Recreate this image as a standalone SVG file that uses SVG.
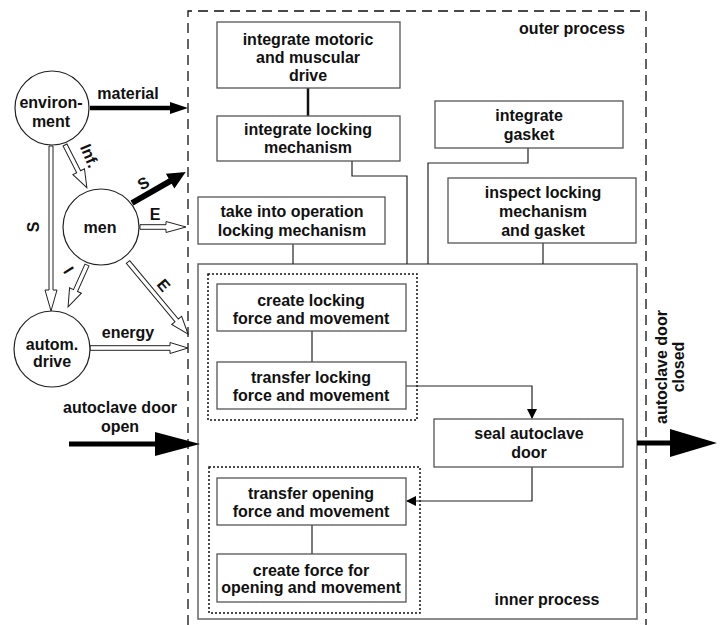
<svg xmlns="http://www.w3.org/2000/svg" width="720" height="625" viewBox="0 0 720 625">
<style>
text{font-family:"Liberation Sans",Arial,sans-serif;font-weight:bold;font-size:16px;fill:#111;text-anchor:middle}
.box{fill:#fff;stroke:#555;stroke-width:1.3}
.ln{fill:none;stroke:#222;stroke-width:1.2}
.dot{fill:none;stroke:#111;stroke-width:1.5;stroke-dasharray:2,2}
.hol{fill:#fff;stroke:#222;stroke-width:1}
.sol{fill:#000;stroke:none}
</style>
<defs>
<marker id="ah" markerWidth="10" markerHeight="10" refX="9" refY="5" orient="auto" markerUnits="userSpaceOnUse"><path d="M0,0 L10,5 L0,10 Z" fill="#000"/></marker>
</defs>
<rect width="720" height="625" fill="#fff"/>
<g id="outer-process">
<path d="M188,625 V11 H646 V625" fill="none" stroke="#111" stroke-width="1.3" stroke-dasharray="10,6"/>
<text x="572" y="34">outer process</text>
</g>
<g id="inner-process">
<rect x="198" y="264" width="439" height="355" fill="none" stroke="#666" stroke-width="1.5"/>
<text x="547" y="605">inner process</text>
</g>
<g id="group-locking"><rect class="dot" x="208" y="274" width="209" height="146"/></g>
<g id="group-opening"><rect class="dot" x="209" y="467" width="211" height="146"/></g>
<g id="connectors">
<line x1="308" y1="88" x2="308" y2="116" stroke="#111" stroke-width="2.5"/>
<path class="ln" d="M352,161 V176 H407 V264"/>
<path class="ln" d="M528,148 V163 H428 V264"/>
<path class="ln" d="M543,243 V264"/>
<path class="ln" d="M293,244 V264"/>
<path class="ln" d="M312,331 V362"/>
<path class="ln" d="M312,525 V554"/>
<path class="ln" d="M406,386 H532 V418" marker-end="url(#ah)"/>
<path class="ln" d="M532,467 V501 H407" marker-end="url(#ah)"/>
<line x1="90" y1="108" x2="172" y2="108" stroke="#000" stroke-width="4.5"/>
<polygon class="sol" points="188,108 170,102 170,114"/>
<polygon class="sol" transform="translate(132,203) rotate(-29.9)" points="0,-3 44,-3 44,-8.5 62,0 44,8.5 44,3 0,3"/>
<polygon class="hol" transform="translate(51,146) rotate(90)" points="0,-2 144,-2 144,-6 165,0 144,6 144,2 0,2"/>
<polygon class="hol" transform="translate(65,145) rotate(62.9)" points="0,-2.2 30,-2.2 30,-6.5 48,0 30,6.5 30,2.2 0,2.2"/>
<polygon class="hol" transform="translate(140,227) rotate(0)" points="0,-2.3 26,-2.3 26,-5.5 46,0 26,5.5 26,2.3 0,2.3"/>
<polygon class="hol" transform="translate(87,265) rotate(114.3)" points="0,-2.2 28,-2.2 28,-6.5 46,0 28,6.5 28,2.2 0,2.2"/>
<polygon class="hol" transform="translate(128,262) rotate(50.2)" points="0,-2.2 76,-2.2 76,-6.5 94,0 76,6.5 76,2.2 0,2.2"/>
<polygon class="hol" transform="translate(90,348)" points="0,-2.3 80,-2.3 80,-5.5 98,0 80,5.5 80,2.3 0,2.3"/>
<line x1="69" y1="444" x2="157" y2="444" stroke="#000" stroke-width="5"/>
<polygon class="sol" points="200,444 155,432 155,456"/>
<line x1="637" y1="443" x2="672" y2="443" stroke="#000" stroke-width="5"/>
<polygon class="sol" points="717,443 670,429 670,457"/>
<text x="128" y="99">material</text>
<text transform="translate(39,227) rotate(-90)" y="0">S</text>
<text transform="translate(89,156) rotate(67)" y="5">Inf.</text>
<text transform="translate(143,183) rotate(-30)" y="6">S</text>
<text x="155" y="220">E</text>
<text transform="translate(69,270) rotate(58)" y="6">I</text>
<text transform="translate(164,285) rotate(50)" y="6">E</text>
<text x="128" y="338">energy</text>
<text x="120" y="413">autoclave door</text>
<text x="120" y="432">open</text>
<text transform="translate(667,367) rotate(-90)">autoclave door</text>
<text transform="translate(684,367) rotate(-90)">closed</text>
</g>
<g id="environment"><circle cx="52" cy="108" r="37" fill="#fff" stroke="#222" stroke-width="1.2"/><text x="51" y="108">environ-</text><text x="51" y="127">ment</text></g>
<g id="men"><circle cx="101" cy="227" r="38" fill="#fff" stroke="#222" stroke-width="1.2"/><text x="100" y="233">men</text></g>
<g id="autom-drive"><circle cx="52" cy="349" r="38" fill="#fff" stroke="#222" stroke-width="1.2"/><text x="52" y="350">autom.</text><text x="52" y="367">drive</text></g>
<g id="n-motoric"><rect class="box" x="217" y="22" width="183" height="66"/><text x="308" y="45">integrate motoric</text><text x="308" y="63">and muscular</text><text x="308" y="81">drive</text></g>
<g id="n-locking-mech"><rect class="box" x="217" y="116" width="183" height="45"/><text x="308" y="135">integrate locking</text><text x="308" y="153">mechanism</text></g>
<g id="n-gasket"><rect class="box" x="435" y="101" width="188" height="47"/><text x="529" y="121">integrate</text><text x="529" y="140">gasket</text></g>
<g id="n-inspect"><rect class="box" x="448" y="178" width="188" height="65"/><text x="543" y="198">inspect locking</text><text x="543" y="217">mechanism</text><text x="543" y="236">and gasket</text></g>
<g id="n-take"><rect class="box" x="198" y="197" width="187" height="47"/><text x="292" y="217">take into operation</text><text x="292" y="236">locking mechanism</text></g>
<g id="n-create-locking"><rect class="box" x="217" y="284" width="189" height="47"/><text x="311" y="306">create locking</text><text x="311" y="324">force and movement</text></g>
<g id="n-transfer-locking"><rect class="box" x="217" y="362" width="189" height="47"/><text x="311" y="383">transfer locking</text><text x="311" y="401">force and movement</text></g>
<g id="n-seal"><rect class="box" x="434" y="419" width="189" height="48"/><text x="529" y="439">seal autoclave</text><text x="529" y="458">door</text></g>
<g id="n-transfer-opening"><rect class="box" x="217" y="478" width="189" height="47"/><text x="311" y="499">transfer opening</text><text x="311" y="517">force and movement</text></g>
<g id="n-create-opening"><rect class="box" x="217" y="554" width="189" height="48"/><text x="311" y="576">create force for</text><text x="311" y="593">opening and movement</text></g>
</svg>
